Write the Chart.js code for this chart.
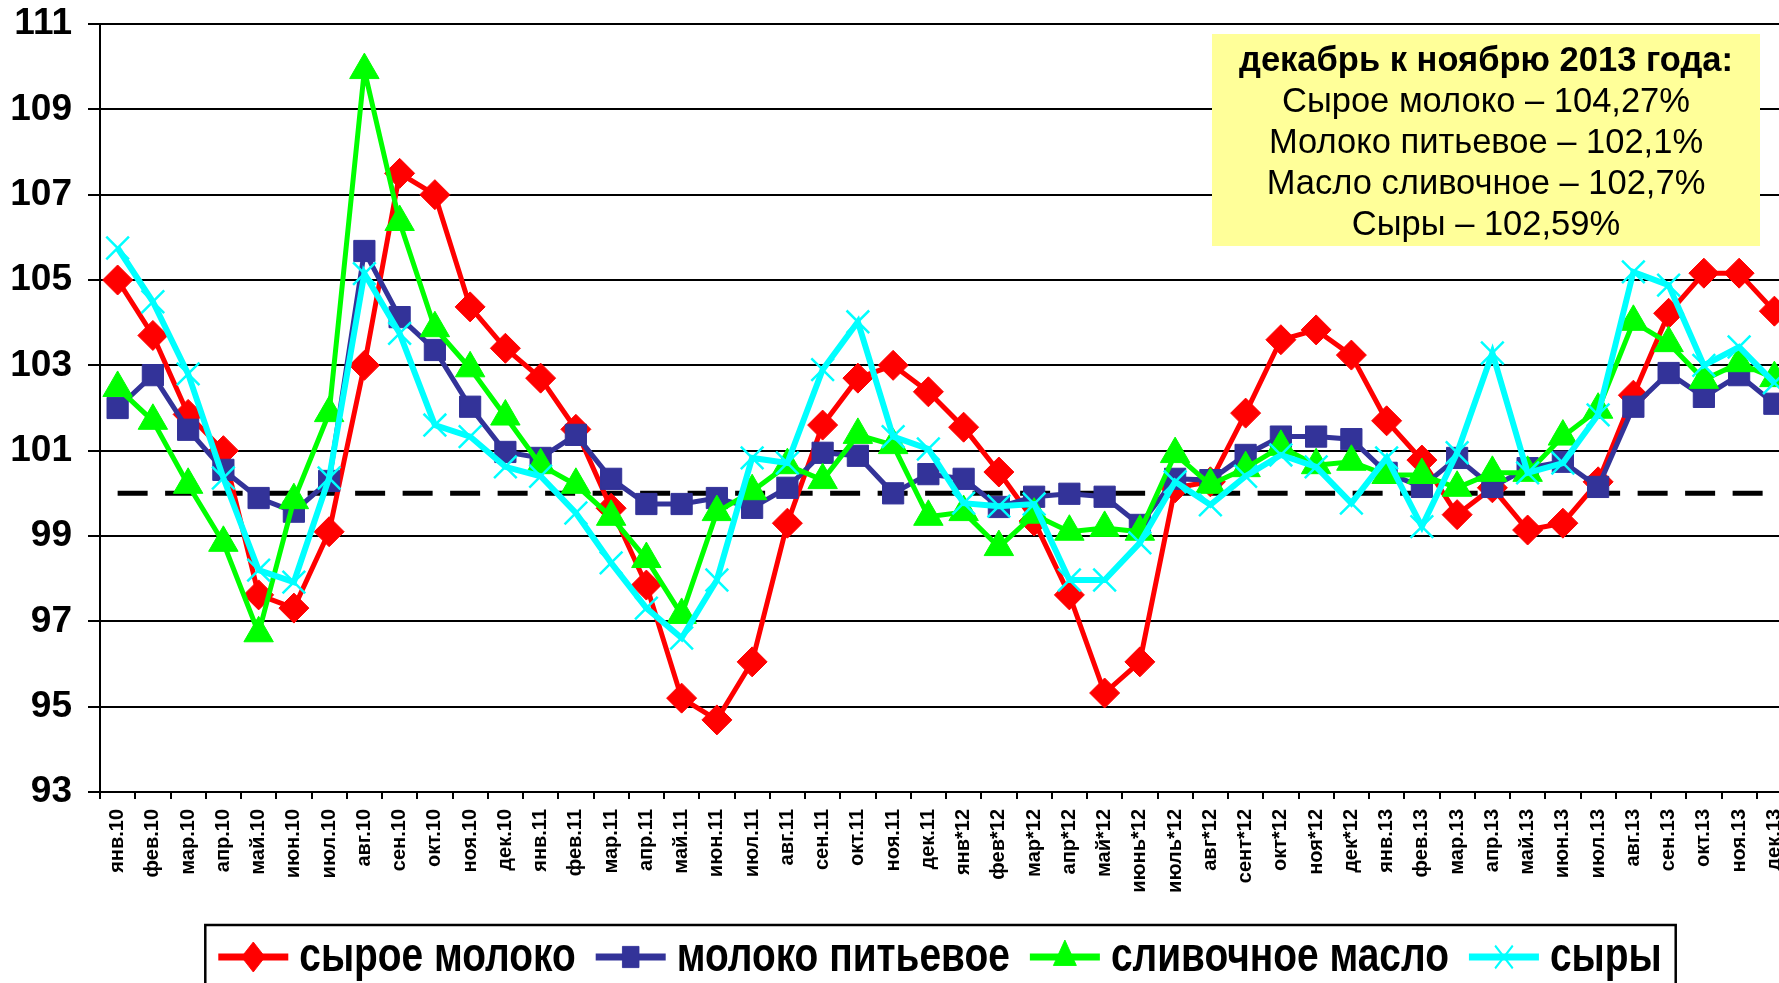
<!DOCTYPE html>
<html lang="ru">
<head>
<meta charset="utf-8">
<title>Индексы цен: молоко и молочная продукция</title>
<script src="https://cdn.jsdelivr.net/npm/chart.js@4.4.1/dist/chart.umd.min.js"></script>
<style>
  html, body { margin: 0; padding: 0; background: #fff; overflow: hidden; }
  #wrap { width: 1792px; height: 1000px; }
</style>
</head>
<body>
<div id="wrap"><canvas id="milkChart" width="1792" height="1000"></canvas></div>
<script>
// месяцы
const months = ['янв.10','фев.10','мар.10','апр.10','май.10','июн.10','июл.10','авг.10','сен.10','окт.10','ноя.10','дек.10',
  'янв.11','фев.11','мар.11','апр.11','май.11','июн.11','июл.11','авг.11','сен.11','окт.11','ноя.11','дек.11',
  'янв*12','фев*12','мар*12','апр*12','май*12','июнь*12','июль*12','авг*12','сент*12','окт*12','ноя*12','дек*12',
  'янв.13','фев.13','мар.13','апр.13','май.13','июн.13','июл.13','авг.13','сен.13','окт.13','ноя.13','дек.13'];

const rawMilk = [105.0, 103.7, 101.85, 101.0, 97.62, 97.31, 99.1, 103.0, 107.5, 107.0, 104.37, 103.4,
  102.7, 101.5, 99.65, 97.85, 95.2, 94.69, 96.05, 99.3, 101.6, 102.7, 103.0, 102.38,
  101.55, 100.5, 99.35, 97.62, 95.32, 96.05, 100.13, 100.27, 101.88, 103.6, 103.83, 103.24,
  101.7, 100.78, 99.5, 100.13, 99.14, 99.3, 100.27, 102.3, 104.22, 105.16, 105.16, 104.27];

const drinkingMilk = [102.0, 102.77, 101.49, 100.55, 99.89, 99.57, 100.29, 105.68, 104.13, 103.36, 102.03, 100.97,
  100.83, 101.37, 100.34, 99.75, 99.75, 99.89, 99.66, 100.13, 100.95, 100.88, 100.0, 100.45,
  100.34, 99.68, 99.92, 99.99, 99.92, 99.26, 100.34, 100.31, 100.9, 101.33, 101.33, 101.27,
  100.48, 100.15, 100.83, 100.15, 100.59, 100.74, 100.15, 102.03, 102.82, 102.26, 102.77, 102.1];

const butter = [102.47, 101.7, 100.2, 98.84, 96.72, 99.84, 101.88, 109.92, 106.36, 103.87, 102.93, 101.8,
  100.66, 100.2, 99.45, 98.46, 97.15, 99.56, 100.05, 100.66, 100.31, 101.37, 101.13, 99.45,
  99.56, 98.74, 99.5, 99.1, 99.19, 99.1, 100.92, 100.2, 100.59, 101.09, 100.66, 100.74,
  100.43, 100.43, 100.13, 100.48, 100.48, 101.33, 101.96, 104.02, 103.52, 102.66, 103.05, 102.7];

const cheese = [105.75, 104.49, 102.8, 100.36, 98.2, 97.92, 100.36, 105.15, 103.75, 101.6, 101.33, 100.62,
  100.4, 99.54, 98.37, 97.31, 96.61, 97.97, 100.83, 100.71, 102.9, 104.02, 101.33, 101.04,
  99.77, 99.7, 99.75, 97.97, 97.97, 98.84, 100.27, 99.73, 100.4, 100.9, 100.62, 99.77,
  100.83, 99.22, 100.95, 103.29, 100.48, 100.71, 101.84, 105.19, 104.88, 103.0, 103.43, 102.59];

const seriesNames = ['сырое молоко', 'молоко питьевое', 'сливочное масло', 'сыры'];

const noteTitle = 'декабрь к ноябрю 2013 года:';
const noteLines = ['Сырое молоко – 104,27%', 'Молоко питьевое – 102,1%', 'Масло сливочное – 102,7%', 'Сыры – 102,59%'];

const yMin = 93, yMax = 111, yStep = 2;
const baseLevel = 100;

const FONT = "'Liberation Sans', Arial, sans-serif";

// пунктир на уровне 100
const baseLinePlugin = {
  id: 'baseLine',
  beforeDatasetsDraw(chart) {
    const { ctx, scales: { x, y } } = chart;
    const yy = y.getPixelForValue(baseLevel);
    ctx.save();
    ctx.strokeStyle = '#000';
    ctx.lineWidth = 5;
    ctx.setLineDash([30, 17.5]);
    ctx.beginPath();
    ctx.moveTo(x.getPixelForValue(0), yy);
    ctx.lineTo(x.getPixelForValue(months.length - 1), yy);
    ctx.stroke();
    ctx.restore();
  }
};

// жёлтая плашка
const noteBoxPlugin = {
  id: 'noteBox',
  afterDraw(chart) {
    const { ctx, chartArea } = chart;
    const left = chartArea.right - 580, right = chartArea.right - 32;
    const top = chartArea.top + 10, bottom = chartArea.top + 222;
    const cx = (left + right) / 2;
    ctx.save();
    ctx.fillStyle = '#ffff99';
    ctx.fillRect(left, top, right - left, bottom - top);
    ctx.fillStyle = '#000';
    ctx.textAlign = 'center';
    ctx.textBaseline = 'middle';
    ctx.font = 'bold 34.5px ' + FONT;
    ctx.fillText(noteTitle, cx, top + 27);
    ctx.font = '34.5px ' + FONT;
    noteLines.forEach((t, i) => ctx.fillText(t, cx, top + 68 + i * 41));
    ctx.restore();
  }
};

// легенда в рамке
const legendBoxPlugin = {
  id: 'legendBox',
  afterDraw(chart) {
    const { ctx, chartArea } = chart;
    const sets = chart.data.datasets;
    const sx = 0.81, iconW = 70, iconGap = 11, itemGap = 20, cy = 957;
    ctx.save();
    ctx.font = 'bold 48px ' + FONT;
    const widths = sets.map(ds => ctx.measureText(ds.label).width * sx);
    const total = widths.reduce((a, w) => a + iconW + iconGap + w, 0) + itemGap * (sets.length - 1);
    let x = (chartArea.left + chartArea.right) / 2 - 6 - total / 2;

    ctx.strokeStyle = '#000';
    ctx.lineWidth = 2.5;
    ctx.strokeRect(x - 13, 925, total + 27, 120);

    sets.forEach((ds, i) => {
      ctx.strokeStyle = ds.borderColor;
      ctx.fillStyle = ds.backgroundColor;
      ctx.lineWidth = 7;
      ctx.setLineDash([]);
      ctx.beginPath();
      ctx.moveTo(x, cy);
      ctx.lineTo(x + iconW, cy);
      ctx.stroke();

      ctx.save();
      ctx.translate(x + iconW / 2, cy);
      ctx.scale(0.78, 1);
      ctx.lineWidth = ds.pointBorderWidth;
      Chart.helpers.drawPoint(ctx, {
        pointStyle: ds.pointStyle, radius: ds.pointRadius, rotation: 0, borderWidth: ds.pointBorderWidth
      }, 0, 0);
      ctx.restore();

      x += iconW + iconGap;
      ctx.save();
      ctx.translate(x, cy + 1);
      ctx.scale(sx, 1);
      ctx.fillStyle = '#000';
      ctx.textAlign = 'left';
      ctx.textBaseline = 'middle';
      ctx.fillText(ds.label, 0, 0);
      ctx.restore();
      x += widths[i] + itemGap;
    });
    ctx.restore();
  }
};

const ctx = document.getElementById('milkChart').getContext('2d');
const milkChart = new Chart(ctx, {
  type: 'line',
  data: {
    labels: months,
    datasets: [
      { label: seriesNames[0], data: rawMilk, borderColor: '#ff0000', backgroundColor: '#ff0000',
        borderWidth: 5, pointStyle: 'rectRot', pointRadius: 15, pointBorderWidth: 1, order: 4 },
      { label: seriesNames[1], data: drinkingMilk, borderColor: '#333399', backgroundColor: '#333399',
        borderWidth: 5, pointStyle: 'rect', pointRadius: 15, pointBorderWidth: 1, order: 3 },
      { label: seriesNames[2], data: butter, borderColor: '#00ff00', backgroundColor: '#00ff00',
        borderWidth: 5, pointStyle: 'triangle', pointRadius: 17, pointBorderWidth: 1, order: 2 },
      { label: seriesNames[3], data: cheese, borderColor: '#00ffff', backgroundColor: '#00ffff',
        borderWidth: 6, pointStyle: 'crossRot', pointRadius: 16, pointBorderWidth: 2.5, order: 1 }
    ]
  },
  options: {
    responsive: false,
    animation: false,
    events: [],
    layout: { autoPadding: false, padding: { top: 24, left: 0, right: 0, bottom: 0 } },
    elements: { line: { tension: 0 } },
    plugins: {
      legend: { display: false },
      tooltip: { enabled: false }
    },
    scales: {
      x: {
        offset: true,
        grid: { offset: true, drawOnChartArea: false, drawTicks: true, tickLength: 7, color: '#000', lineWidth: 2 },
        border: { color: '#000', width: 2 },
        ticks: {
          autoSkip: false, minRotation: 90, maxRotation: 90, padding: 10, color: '#000',
          font: { family: FONT, size: 20, weight: 'bold' }
        },
        afterFit(scale) {
          scale.height = 208;
          scale.paddingLeft = 0;
          scale.paddingRight = 0;
          scale.paddingTop = 0;
          scale.paddingBottom = 0;
        }
      },
      y: {
        min: yMin,
        max: yMax,
        ticks: { stepSize: yStep, padding: 16, color: '#000', font: { family: FONT, size: 37, weight: 'bold' } },
        grid: { color: '#000', lineWidth: 2, tickLength: 12 },
        border: { color: '#000', width: 2 },
        afterFit(scale) {
          scale.width = 100;
          scale.paddingTop = 0;
          scale.paddingBottom = 0;
        }
      }
    }
  },
  plugins: [baseLinePlugin, noteBoxPlugin, legendBoxPlugin]
});
</script>
</body>
</html>
